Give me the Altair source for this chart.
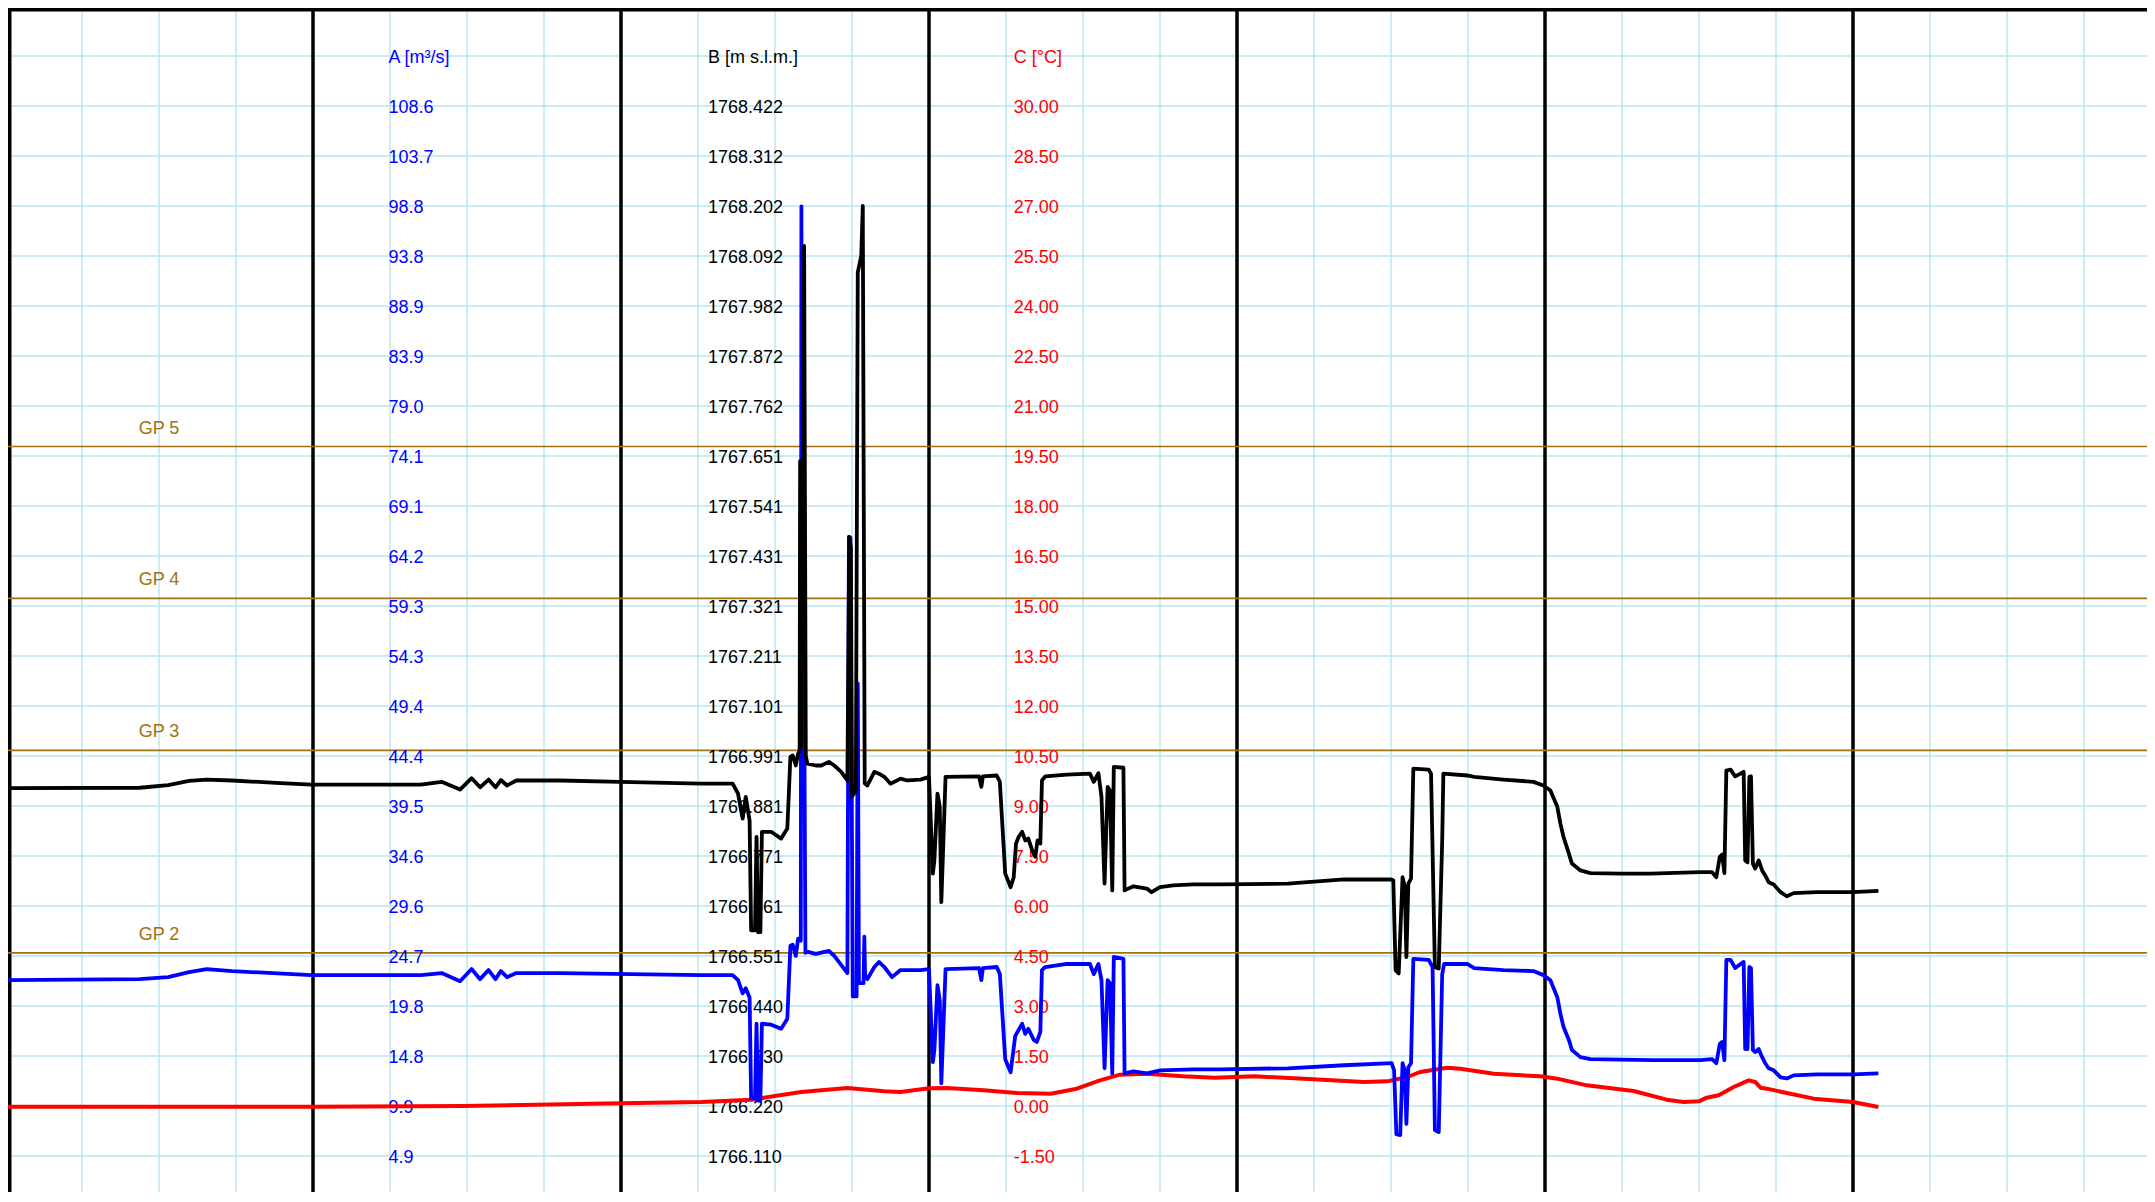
import altair as alt
import pandas as pd

# ---------------- scale definitions (one grid step per series) ----------------
A_STEP = 4.9375                 # m3/s per grid line
B_BASE, B_STEP = 1766.0, 0.1101  # m s.l.m.
C_BASE, C_STEP = -3.0, 1.5       # deg C

TITLES = ["A [m³/s]", "B [m s.l.m.]", "C [°C]"]
A_TICKS = ["4.9", "9.9", "14.8", "19.8", "24.7", "29.6", "34.6", "39.5", "44.4", "49.4", "54.3",
           "59.3", "64.2", "69.1", "74.1", "79.0", "83.9", "88.9", "93.8", "98.8", "103.7", "108.6"]
B_TICKS = ["1766.110", "1766.220", "1766.330", "1766.440", "1766.551", "1766.661", "1766.771",
           "1766.881", "1766.991", "1767.101", "1767.211", "1767.321", "1767.431", "1767.541",
           "1767.651", "1767.762", "1767.872", "1767.982", "1768.092", "1768.202", "1768.312",
           "1768.422"]
C_TICKS = ["-1.50", "0.00", "1.50", "3.00", "4.50", "6.00", "7.50", "9.00", "10.50", "12.00",
           "13.50", "15.00", "16.50", "18.00", "19.50", "21.00", "22.50", "24.00", "25.50",
           "27.00", "28.50", "30.00"]

GP_NAMES = ["GP 2", "GP 3", "GP 4", "GP 5"]
GP_VALUES = [25.0, 45.0, 60.0, 75.0]   # in A units

# ---------------- series B (black) ----------------
B_X = [0.00, 1.75, 2.12, 2.39, 2.62, 2.95, 3.58, 3.98, 5.40, 5.67,
       5.91, 6.06, 6.17, 6.28, 6.37, 6.44, 6.52, 6.64, 7.21, 7.99,
       9.04, 9.45, 9.52, 9.58, 9.62, 9.67, 9.69, 9.74, 9.76, 9.78,
       9.81, 9.83, 9.95, 10.08, 10.16, 10.20, 10.23, 10.27, 10.30, 10.32,
       10.326, 10.34, 10.378, 10.40, 10.42, 10.53, 10.60, 10.70, 10.77, 10.86,
       10.94, 10.965, 10.985, 11.00, 11.05, 11.075, 11.12, 11.14, 11.165, 11.20,
       11.29, 11.35, 11.42, 11.50, 11.55, 11.63, 11.72, 11.89, 12.00, 12.05,
       12.07, 12.11, 12.14, 12.16, 12.215, 12.65, 12.68, 12.70, 12.88, 12.92,
       12.99, 13.06, 13.10, 13.13, 13.165, 13.21, 13.25, 13.29, 13.34, 13.38,
       13.41, 13.446, 13.467, 13.51, 13.79, 14.09, 14.14, 14.20, 14.24, 14.28,
       14.32, 14.35, 14.38, 14.40, 14.525, 14.54, 14.655, 14.83, 14.89, 15.00,
       15.17, 15.43, 15.79, 16.66, 17.39, 18.00, 18.03, 18.06, 18.10, 18.15,
       18.18, 18.20, 18.225, 18.26, 18.29, 18.49, 18.52, 18.57, 18.62, 18.665,
       18.68, 18.99, 19.08, 19.46, 19.85, 19.98, 20.07, 20.16, 20.20, 20.24,
       20.31, 20.35, 20.46, 20.59, 20.98, 21.37, 22.02, 22.17, 22.225, 22.27,
       22.30, 22.33, 22.355, 22.41, 22.47, 22.54, 22.58, 22.60, 22.63, 22.654,
       22.675, 22.70, 22.73, 22.775, 22.82, 22.86, 22.905, 22.97, 23.06, 23.14,
       23.23, 23.53, 24.00, 24.33]
B_VAL = [1766.920, 1766.921, 1766.927, 1766.936, 1766.939, 1766.937, 1766.931, 1766.928, 1766.928, 1766.934,
         1766.917, 1766.942, 1766.922, 1766.939, 1766.922, 1766.938, 1766.926, 1766.937, 1766.937, 1766.934,
         1766.930, 1766.930, 1766.908, 1766.853, 1766.901, 1766.849, 1766.607, 1766.607, 1766.813, 1766.603,
         1766.603, 1766.824, 1766.824, 1766.809, 1766.831, 1766.989, 1766.992, 1766.970, 1766.996, 1767.002,
         1767.640, 1767.013, 1768.114, 1766.991, 1766.974, 1766.970, 1766.970, 1766.978, 1766.970, 1766.956,
         1766.937, 1767.472, 1767.450, 1766.902, 1766.914, 1768.056, 1768.092, 1768.202, 1766.931, 1766.926,
         1766.956, 1766.952, 1766.945, 1766.930, 1766.934, 1766.941, 1766.937, 1766.939, 1766.945, 1766.732,
         1766.761, 1766.908, 1766.879, 1766.669, 1766.945, 1766.946, 1766.923, 1766.946, 1766.948, 1766.934,
         1766.732, 1766.702, 1766.724, 1766.798, 1766.813, 1766.824, 1766.805, 1766.809, 1766.783, 1766.769,
         1766.805, 1766.798, 1766.937, 1766.946, 1766.950, 1766.952, 1766.934, 1766.953, 1766.901, 1766.710,
         1766.923, 1766.915, 1766.695, 1766.967, 1766.965, 1766.695, 1766.704, 1766.699, 1766.691, 1766.702,
         1766.706, 1766.708, 1766.708, 1766.710, 1766.719, 1766.719, 1766.717, 1766.519, 1766.512, 1766.724,
         1766.702, 1766.548, 1766.710, 1766.721, 1766.963, 1766.961, 1766.952, 1766.526, 1766.523, 1766.805,
         1766.952, 1766.948, 1766.945, 1766.939, 1766.934, 1766.926, 1766.915, 1766.879, 1766.842, 1766.813,
         1766.776, 1766.754, 1766.739, 1766.733, 1766.732, 1766.732, 1766.735, 1766.735, 1766.724, 1766.769,
         1766.774, 1766.733, 1766.959, 1766.961, 1766.946, 1766.952, 1766.956, 1766.761, 1766.757, 1766.945,
         1766.946, 1766.754, 1766.743, 1766.761, 1766.739, 1766.728, 1766.713, 1766.708, 1766.691, 1766.682,
         1766.689, 1766.691, 1766.691, 1766.694]

# ---------------- series A (blue) ----------------
A_X = [0.00, 1.75, 2.12, 2.39, 2.62, 2.95, 3.98, 5.40, 5.67, 5.91,
       6.06, 6.17, 6.28, 6.37, 6.44, 6.52, 6.64, 7.21, 9.04, 9.45,
       9.52, 9.58, 9.62, 9.67, 9.69, 9.74, 9.76, 9.78, 9.81, 9.83,
       9.95, 10.08, 10.16, 10.20, 10.23, 10.27, 10.30, 10.335, 10.343, 10.352,
       10.375, 10.395, 10.43, 10.53, 10.70, 10.77, 10.94, 10.96, 10.98, 11.01,
       11.06, 11.075, 11.09, 11.15, 11.16, 11.17, 11.20, 11.29, 11.35, 11.42,
       11.52, 11.63, 11.89, 12.00, 12.05, 12.07, 12.11, 12.14, 12.16, 12.215,
       12.65, 12.68, 12.70, 12.88, 12.92, 12.99, 13.06, 13.12, 13.21, 13.25,
       13.29, 13.36, 13.40, 13.446, 13.467, 13.51, 13.79, 14.09, 14.14, 14.20,
       14.24, 14.28, 14.32, 14.35, 14.38, 14.40, 14.525, 14.54, 14.655, 14.83,
       14.89, 15.00, 15.43, 15.79, 16.66, 17.39, 18.01, 18.04, 18.07, 18.12,
       18.15, 18.18, 18.20, 18.225, 18.26, 18.29, 18.49, 18.54, 18.57, 18.62,
       18.665, 18.69, 18.99, 19.08, 19.46, 19.85, 19.98, 20.07, 20.16, 20.20,
       20.24, 20.31, 20.35, 20.46, 20.59, 21.40, 22.02, 22.17, 22.225, 22.27,
       22.30, 22.33, 22.355, 22.41, 22.47, 22.54, 22.58, 22.60, 22.63, 22.654,
       22.675, 22.70, 22.73, 22.775, 22.82, 22.86, 22.905, 22.97, 23.06, 23.14,
       23.23, 23.53, 24.00, 24.33]
A_VAL = [22.3, 22.4, 22.6, 23.1, 23.4, 23.2, 22.8, 22.8, 23.0, 22.2,
         23.4, 22.4, 23.3, 22.4, 23.2, 22.6, 23.0, 23.0, 22.8, 22.8,
         22.3, 21.0, 21.5, 20.6, 10.6, 10.6, 18.0, 10.4, 10.4, 18.0,
         17.9, 17.5, 18.5, 25.7, 25.8, 24.7, 26.4, 26.2, 98.7, 60.0,
         57.0, 25.0, 25.1, 24.9, 25.2, 24.7, 23.0, 66.1, 66.0, 20.7,
         20.7, 51.6, 22.0, 22.0, 26.6, 22.8, 22.4, 23.6, 24.1, 23.6,
         22.6, 23.3, 23.3, 23.4, 14.2, 15.4, 21.8, 20.3, 12.1, 23.4,
         23.5, 22.3, 23.5, 23.6, 22.9, 14.5, 13.2, 16.8, 18.0, 17.0,
         17.5, 16.4, 16.2, 17.2, 23.3, 23.6, 23.9, 23.9, 22.9, 23.9,
         22.3, 13.6, 22.3, 22.0, 13.1, 24.6, 24.4, 13.1, 13.3, 13.1,
         13.2, 13.4, 13.5, 13.5, 13.6, 13.9, 14.1, 13.4, 7.1, 7.0,
         14.1, 13.4, 8.1, 13.7, 14.1, 24.4, 24.3, 23.6, 7.5, 7.3,
         22.9, 23.9, 23.9, 23.5, 23.3, 23.2, 22.8, 22.3, 20.6, 19.0,
         17.7, 16.4, 15.4, 14.7, 14.5, 14.4, 14.4, 14.5, 14.1, 16.0,
         16.2, 14.4, 24.3, 24.3, 23.5, 23.9, 24.1, 15.5, 15.5, 23.6,
         23.5, 15.4, 15.2, 15.5, 14.7, 14.1, 13.6, 13.4, 12.7, 12.6,
         12.9, 13.0, 13.0, 13.1]

# ---------------- series C (red) ----------------
C_X = [0.00, 3.98, 5.94, 7.99, 9.04, 9.69, 10.34, 10.94, 11.42, 11.63,
       12.00, 12.235, 12.71, 13.14, 13.58, 13.92, 14.22, 14.48, 14.83, 15.30,
       15.71, 16.225, 16.87, 17.65, 17.95, 18.21, 18.38, 18.73, 18.90, 19.335,
       19.94, 20.16, 20.54, 21.15, 21.58, 21.80, 22.00, 22.10, 22.255, 22.45,
       22.645, 22.73, 22.80, 22.88, 23.14, 23.49, 24.00, 24.33]
C_VAL = [-0.02, -0.02, 0.00, 0.08, 0.12, 0.19, 0.42, 0.54, 0.44, 0.42,
         0.53, 0.54, 0.47, 0.39, 0.37, 0.52, 0.77, 0.94, 0.97, 0.89,
         0.85, 0.89, 0.82, 0.72, 0.74, 0.87, 1.02, 1.15, 1.12, 0.97,
         0.89, 0.82, 0.62, 0.45, 0.19, 0.12, 0.14, 0.25, 0.32, 0.57,
         0.77, 0.72, 0.55, 0.52, 0.39, 0.22, 0.12, -0.03]

# ---------------- layout ----------------
PAD_L, PAD_T = -3, -2            # pull the drawing 3px left / 2px up
W, H = 2142, 1186                # svg ends up (W-3) x (H-2) = 2139 x 1184: no page overflow
PX_X, PX_Y = 77.0, 50.0          # pixels per grid step
U_HI = 24.0
U_LO = U_HI - H / PX_Y
X_HI = W / PX_X

GRID = "#BAE4F2"
GPC = "#A2700E"
FONT = "Liberation Sans"

xs = alt.Scale(domain=[0, X_HI], nice=False, zero=False)
us = alt.Scale(domain=[U_LO, U_HI], nice=False, zero=False)
a_s = alt.Scale(domain=[U_LO * A_STEP, U_HI * A_STEP], nice=False, zero=False)
b_s = alt.Scale(domain=[B_BASE + U_LO * B_STEP, B_BASE + U_HI * B_STEP], nice=False, zero=False)
c_s = alt.Scale(domain=[C_BASE + U_LO * C_STEP, C_BASE + U_HI * C_STEP], nice=False, zero=False)

n_cols = int(X_HI) + 1
minor_v = pd.DataFrame({"x": [k for k in range(1, n_cols) if k % 4 != 0]})
major_v = pd.DataFrame({"x": [k for k in range(4, n_cols) if k % 4 == 0]})
hlines = pd.DataFrame({"u": list(range(1, 24))})

grid_v = alt.Chart(minor_v).mark_rule(color=GRID, strokeWidth=1.4).encode(
    x=alt.X("x:Q", scale=xs, axis=None))
grid_h = alt.Chart(hlines).mark_rule(color=GRID, strokeWidth=1.4).encode(
    y=alt.Y("u:Q", scale=us, axis=None))

gp_df = pd.DataFrame({"name": GP_NAMES, "A": GP_VALUES, "x": [2.0] * len(GP_NAMES)})
gp_lines = alt.Chart(gp_df).mark_rule(color=GPC, strokeWidth=1.7).encode(
    y=alt.Y("A:Q", scale=a_s, axis=None))
gp_text = alt.Chart(gp_df).mark_text(
    color=GPC, font=FONT, fontSize=18, align="center", baseline="middle", dy=-18
).encode(x=alt.X("x:Q", scale=xs, axis=None), y=alt.Y("A:Q", scale=a_s, axis=None), text="name:N")

thick = alt.Chart(major_v).mark_rule(color="black", strokeWidth=3.5).encode(
    x=alt.X("x:Q", scale=xs, axis=None))
# frame lines: kept just inside the visible page area
left_border = alt.Chart(pd.DataFrame({"x": [4.75 / PX_X]})).mark_rule(color="black", strokeWidth=3.5).encode(
    x=alt.X("x:Q", scale=xs, axis=None))
top_border = alt.Chart(pd.DataFrame({"u": [U_HI - 3.75 / PX_Y]})).mark_rule(color="black", strokeWidth=3.5).encode(
    y=alt.Y("u:Q", scale=us, axis=None))

# tick label table (levels 1..22, title at 23)
rows = []
for col_x, ticks, title, colr in [(4.98, A_TICKS, TITLES[0], "#0000FF"),
                                  (9.13, B_TICKS, TITLES[1], "#000000"),
                                  (13.10, C_TICKS, TITLES[2], "#FF0000")]:
    for i, t in enumerate(ticks):
        rows.append({"x": col_x, "u": i + 1, "t": t, "c": colr})
    rows.append({"x": col_x, "u": 23, "t": title, "c": colr})
lab_df = pd.DataFrame(rows)
labels = alt.Chart(lab_df).mark_text(
    font=FONT, fontSize=18, align="left", baseline="middle", dy=1.5
).encode(
    x=alt.X("x:Q", scale=xs, axis=None),
    y=alt.Y("u:Q", scale=us, axis=None),
    text="t:N",
    color=alt.Color("c:N", scale=None),
)

dfA = pd.DataFrame({"x": A_X, "A": A_VAL})
dfB = pd.DataFrame({"x": B_X, "B": B_VAL})
dfC = pd.DataFrame({"x": C_X, "C": C_VAL})

line_c = alt.Chart(dfC).mark_line(color="#FF0000", strokeWidth=4, strokeJoin="round").encode(
    x=alt.X("x:Q", scale=xs, axis=None), y=alt.Y("C:Q", scale=c_s, axis=None))
line_a = alt.Chart(dfA).mark_line(color="#0000FF", strokeWidth=3.8, strokeJoin="round").encode(
    x=alt.X("x:Q", scale=xs, axis=None), y=alt.Y("A:Q", scale=a_s, axis=None))
line_b = alt.Chart(dfB).mark_line(color="#000000", strokeWidth=3.8, strokeJoin="round").encode(
    x=alt.X("x:Q", scale=xs, axis=None), y=alt.Y("B:Q", scale=b_s, axis=None))

chart = alt.layer(
    grid_v, grid_h, thick, left_border, top_border, gp_lines, gp_text, labels,
    line_c, line_a, line_b,
).resolve_scale(y="independent").properties(
    width=W, height=H,
    padding={"left": PAD_L, "top": PAD_T, "right": 0, "bottom": 0},
    autosize=alt.AutoSizeParams(type="none"),
    background="white",
).configure_view(stroke=None)

chart.save("out.html", embed_options={"renderer": "svg", "actions": False})
